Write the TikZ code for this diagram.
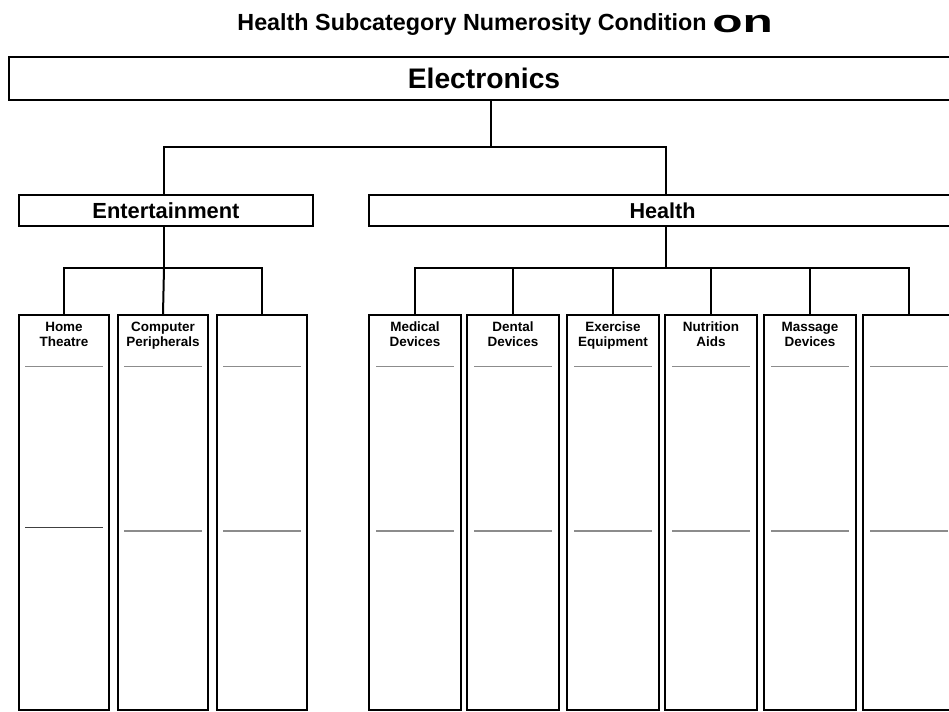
\documentclass[tikz,border=0pt]{standalone}
\usepackage{fontspec}
\usepackage{graphicx}
\setmainfont{Liberation Sans}
\begin{document}
\begin{tikzpicture}[x=0.75pt,y=-0.75pt,
  box/.style={draw=black,line width=1.6pt,fill=white,inner sep=0pt,font=\bfseries},
  colbox/.style={draw=black,line width=1.6pt,inner sep=0pt,minimum height=395*0.75pt},
  collabel/.style={font=\bfseries\fontsize{10.1pt}{11.3pt}\selectfont,align=center,inner sep=0pt,anchor=north},
  conn/.style={line width=1.5pt,line cap=rect},
  sep/.style={draw=black!45,line width=0.8pt},
  sepdark/.style={draw=black!75,line width=0.8pt}]
\useasboundingbox (0,0) rectangle (949,711);
\clip (0,0) rectangle (949,711);
% title
\node[anchor=base east,font=\bfseries\fontsize{17.5pt}{20pt}\selectfont,inner sep=0pt] (title) at (707,30) {Health Subcategory Numerosity Condition};
\node[anchor=base west,font=\bfseries\fontsize{24pt}{27pt}\selectfont,inner sep=0pt] (on) at (712,32) {\scalebox{1.55}[1]{on}};
% top level
\node[box,minimum width=950*0.75pt,minimum height=43*0.75pt,font=\bfseries\fontsize{21.2pt}{24pt}\selectfont] (elec) at (484,78.5) {\raisebox{-1pt}{Electronics}};
% second level
\node[box,minimum width=294*0.75pt,minimum height=31*0.75pt,font=\bfseries\fontsize{16.4pt}{18pt}\selectfont] (ent) at (166,210.5) {Entertainment};
\node[box,minimum width=587*0.75pt,minimum height=31*0.75pt,font=\bfseries\fontsize{16.2pt}{18pt}\selectfont] (hea) at (662.5,210.5) {Health};
% junction coordinates
\coordinate (j0) at (491,147);
\coordinate (jl) at (164,147);
\coordinate (jr) at (666,147);
\coordinate (ej) at (164,268);
\coordinate (hj) at (666,268);
% columns
\foreach \n/\cx/\w in {c1/64/90, c2/163/90, c3/262/90, h1/415/92, h2/513/92, h3/613/92, h4/711/92, h5/810/92, h6/909/92}{
  \node[colbox,minimum width=\w*0.75pt] (\n) at (\cx,512.5) {};
}
% column labels
\node[collabel] (l1) at (64,321.5) {Home\\Theatre};
\node[collabel] (l2) at (163,321.5) {Computer\\Peripherals};
\node[collabel] (l4) at (415,321.5) {Medical\\Devices};
\node[collabel] (l5) at (513,321.5) {Dental\\Devices};
\node[collabel] (l6) at (613,321.5) {Exercise\\Equipment};
\node[collabel] (l7) at (711,321.5) {Nutrition\\Aids};
\node[collabel] (l8) at (810,321.5) {Massage\\Devices};
% separators
\foreach \cx in {64,163,262,415,513,613,711,810,909}{
  \draw[sep] (\cx-39,366.5) -- (\cx+39,366.5);
}
\draw[sepdark] (64-39,527.5) -- (64+39,527.5);
\foreach \cx in {163,262,415,513,613,711,810,909}{
  \draw[sep] (\cx-39,531) -- (\cx+39,531);
}
% connectors
\draw[conn] (elec.south -| j0) -- (j0);
\draw[conn] (ent.north -| jl) |- (jr) -- (hea.north -| jr);
\draw[conn] (ent.south -| ej) -- (ej);
\draw[conn] (c1.north) |- (ej) -| (c3.north);
\draw[conn] (ej) -- (c2.north);
\draw[conn] (hea.south -| hj) -- (hj);
\draw[conn] (h1.north) |- (hj) -| (h6.north);
\foreach \n in {h2,h3,h4,h5}{
  \draw[conn] (\n.north) -- (\n.north |- hj);
}
\end{tikzpicture}
\end{document}
